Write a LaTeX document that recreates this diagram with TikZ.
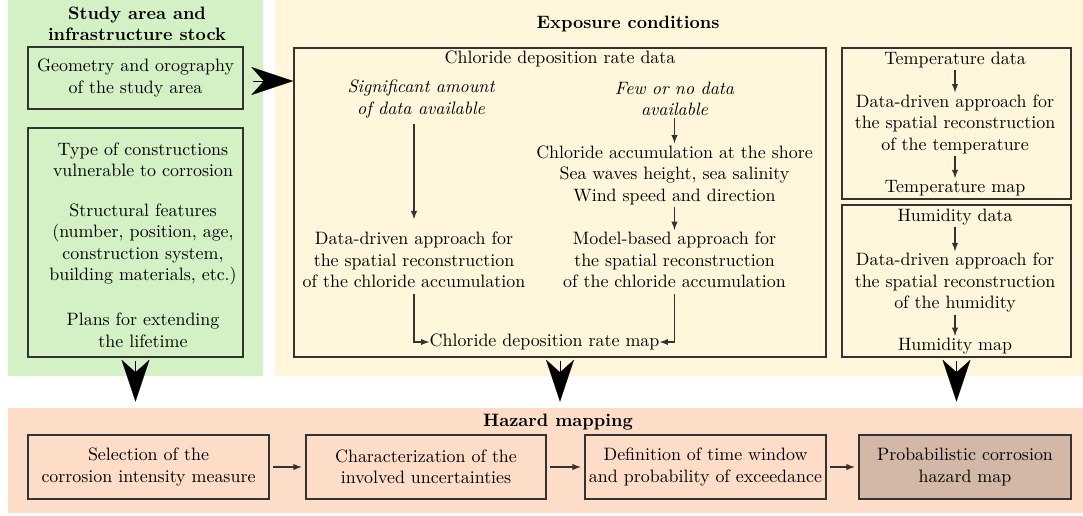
\documentclass[tikz,border=0pt]{standalone}
\usepackage{tikz}
\usetikzlibrary{arrows.meta}
\definecolor{studybg}{HTML}{D4F1C5}
\definecolor{exposbg}{HTML}{FFF6DC}
\definecolor{hazardbg}{HTML}{FDDCC8}
\definecolor{hazardmap}{HTML}{D3B8A8}
\definecolor{boxline}{HTML}{333333}
\newlength\pxu
\setlength\pxu{0.558pt}

\begin{document}
\begin{tikzpicture}[x=\pxu, y=-\pxu,
every node/.style = {align=center, inner sep=1pt},
boxsize/.style 2 args = {minimum width=#1*\pxu, minimum height=#2*\pxu},
panel/.style = {draw=none, inner sep=0pt},
box/.style = {draw=boxline, line width=0.85pt, inner sep=0pt},
headline/.style = {font=\bfseries},
cond/.style = {font=\itshape},
flow/.style = {-latex, line width=0.6pt, draw=boxline},
bigarrow/.style = {-{Stealth[length=23.4pt, width=15.6pt, inset=7pt]}, line width=0.1pt, draw=black}
]
\useasboundingbox (0,0) rectangle (1083,515);

% background panels
\node[panel, fill=studybg, boxsize={255}{376}] (study) at (135.5,188) {};
\node[panel, fill=exposbg, boxsize={808}{376}] (expos) at (679,188) {};
\node[panel, fill=hazardbg, boxsize={1075}{105}] (hazard) at (545.5,460.5) {};

% study area
\node[headline] (studytitle) at (137,24) {Study area and\\infrastructure stock};
\node[box, boxsize={215}{62}] (geo) at (135.5,78) {Geometry and orography\\of the study area};
\node[box, boxsize={215}{229}] (stock) at (135.5,242.5) {};
\node (stocktext) at (143,245) {Type of constructions\\vulnerable to corrosion\\[10pt]
  Structural features\\(number, position, age,\\construction system,\\building materials, etc.)\\[13pt]
  Plans for extending\\the lifetime};

% exposure conditions
\node[headline] (expotitle) at (628,24) {Exposure conditions};
\node[box, boxsize={532}{309}] (chl) at (560,202.5) {};
\node (chldata) at (560,59) {Chloride deposition rate data};
\node[cond] (sig) at (421,99) {Significant amount\\of data available};
\node[cond] (few) at (674.5,99) {Few or no data\\available};
\node (shore) at (674.5,175) {Chloride accumulation at the shore\\Sea waves height, sea salinity\\Wind speed and direction};
\node (ddchl) at (414,260) {Data-driven approach for\\the spatial reconstruction\\of the chloride accumulation};
\node (mbchl) at (674.5,260) {Model-based approach for\\the spatial reconstruction\\of the chloride accumulation};
\node[inner sep=0pt] (chlmap) at (544.5,342) {Chloride deposition rate map};
\draw[flow, shorten <=2pt, shorten >=6pt] (sig.south -| ddchl) -- (ddchl.north);
\draw[flow] (few) -- (shore);
\draw[flow] (shore) -- (mbchl);
\draw[flow, shorten <=2.4pt] (ddchl.south) |- (chlmap.west);
\draw[flow, shorten <=2.4pt] (mbchl.south) |- (chlmap.east);

\node[box, boxsize={229}{151}] (tbox) at (956.5,123.5) {};
\node (tdata) at (955,60) {Temperature data};
\node (tddr) at (955,124) {Data-driven approach for\\the spatial reconstruction\\of the temperature};
\node (tmap) at (955,188) {Temperature map};
\draw[flow] (tdata) -- (tddr);
\draw[flow] (tddr) -- (tmap);

\node[box, boxsize={229}{152}] (hbox) at (956.5,281) {};
\node (hdata) at (955,217) {Humidity data};
\node (hddr) at (955,283) {Data-driven approach for\\the spatial reconstruction\\of the humidity};
\node (hmap) at (955,346) {Humidity map};
\draw[flow] (hdata) -- (hddr);
\draw[flow] (hddr) -- (hmap);

% hazard mapping
\node[headline] (haztitle) at (558,422) {Hazard mapping};
\node[box, boxsize={241}{64}] (measure) at (148.5,467) {Selection of the\\corrosion intensity measure};
\node[box, boxsize={240}{64}] (uncert) at (426,467) {Characterization of the\\involved uncertainties};
\node[box, boxsize={241}{64}] (window) at (705.5,467) {Definition of time window\\and probability of exceedance};
\node[box, fill=hazardmap, boxsize={212}{64}] (hazmap) at (965,467) {Probabilistic corrosion\\hazard map};
\draw[flow, shorten <=2pt, shorten >=2pt] (measure) -- (uncert);
\draw[flow, shorten <=2pt, shorten >=2pt] (uncert) -- (window);
\draw[flow, shorten <=2pt, shorten >=2pt] (window) -- (hazmap);

% big arrows between the panels
\coordinate (geoout) at ([xshift=5pt, yshift=-1.7pt]geo.east);
\draw[bigarrow] (geoout) -- (geoout -| chl.west);
\draw[bigarrow, shorten >=3.35pt] ([yshift=-1.7pt]stock.south) -- (stock.south |- hazard.north);
\draw[bigarrow, shorten >=3.35pt] ([yshift=-1.7pt]chl.south) -- (chl.south |- hazard.north);
\draw[bigarrow, shorten >=3.35pt] ([yshift=-1.7pt]hbox.south) -- (hbox.south |- hazard.north);

\end{tikzpicture}
\end{document}
